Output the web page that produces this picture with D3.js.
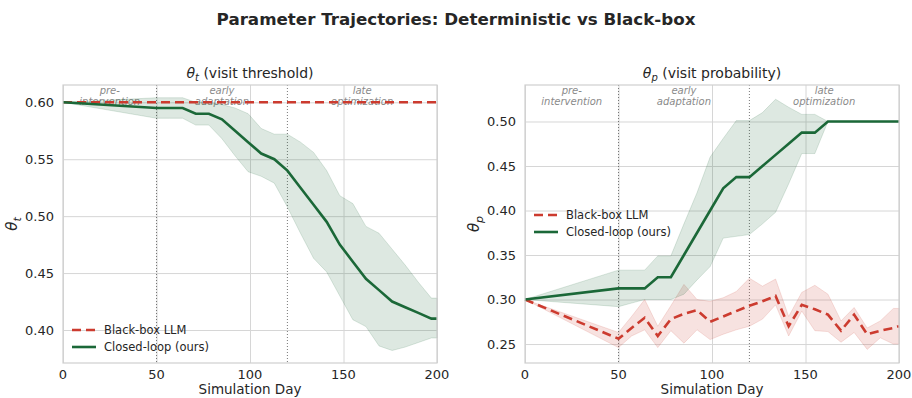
<!DOCTYPE html>
<html>
<head>
<meta charset="utf-8">
<script src="https://cdn.jsdelivr.net/npm/d3@7"></script>
<style>
  body { margin: 0; background: #fff; font-family: "DejaVu Sans", sans-serif; }
  svg text { fill: #262626; }
</style>
</head>
<body>
<div id="chart"></div>
<script>
// Data
const days = [0, 50, 57, 64, 71, 78, 85, 92, 99, 106, 113, 120, 127, 134, 141, 148, 155, 162, 169, 176, 183, 190, 197, 200];

// theta_t
const thetaTBlackbox = days.map(() => 0.60);
const thetaTClosed      = [0.600, 0.595, 0.595, 0.595, 0.590, 0.590, 0.585, 0.575, 0.565, 0.555, 0.550, 0.540, 0.525, 0.510, 0.495, 0.475, 0.460, 0.445, 0.435, 0.425, 0.420, 0.415, 0.410, 0.410];
const thetaTClosedUpper = [0.600, 0.604, 0.604, 0.604, 0.600, 0.600, 0.598, 0.595, 0.590, 0.577, 0.572, 0.572, 0.565, 0.556, 0.540, 0.518, 0.511, 0.491, 0.485, 0.471, 0.457, 0.442, 0.428, 0.428];
const thetaTClosedLower = [0.600, 0.586, 0.586, 0.586, 0.580, 0.580, 0.568, 0.553, 0.539, 0.535, 0.529, 0.508, 0.485, 0.463, 0.451, 0.430, 0.409, 0.403, 0.386, 0.382, 0.385, 0.389, 0.393, 0.393];

// theta_p
const thetaPBlackbox      = [0.300, 0.256, 0.268, 0.2795, 0.259, 0.278, 0.284, 0.288, 0.275, 0.281, 0.287, 0.293, 0.298, 0.304, 0.270, 0.294, 0.289, 0.283, 0.265, 0.283, 0.261, 0.265, 0.268, 0.270];
const thetaPBlackboxUpper = [0.300, 0.263, 0.281, 0.300, 0.270, 0.293, 0.317, 0.300, 0.298, 0.302, 0.309, 0.324, 0.315, 0.323, 0.281, 0.308, 0.316, 0.306, 0.276, 0.291, 0.268, 0.276, 0.290, 0.290];
const thetaPBlackboxLower = [0.300, 0.246, 0.259, 0.266, 0.246, 0.265, 0.251, 0.266, 0.255, 0.261, 0.266, 0.270, 0.278, 0.294, 0.259, 0.287, 0.265, 0.264, 0.252, 0.263, 0.244, 0.257, 0.250, 0.250];
const thetaPClosed      = [0.300, 0.3125, 0.3125, 0.3125, 0.325, 0.325, 0.350, 0.375, 0.400, 0.425, 0.4375, 0.4375, 0.450, 0.4625, 0.475, 0.4875, 0.4875, 0.500, 0.500, 0.500, 0.500, 0.500, 0.500, 0.500];
const thetaPClosedUpper = [0.300, 0.333, 0.333, 0.333, 0.349, 0.349, 0.385, 0.420, 0.460, 0.481, 0.501, 0.501, 0.510, 0.525, 0.516, 0.508, 0.508, 0.500, 0.500, 0.500, 0.500, 0.500, 0.500, 0.500];
const thetaPClosedLower = [0.300, 0.292, 0.296, 0.300, 0.300, 0.300, 0.306, 0.322, 0.337, 0.369, 0.371, 0.373, 0.385, 0.398, 0.430, 0.464, 0.464, 0.500, 0.500, 0.500, 0.500, 0.500, 0.500, 0.500];

const phaseBounds = [50, 120];
const phases = [
  {day: 25, lines: ["pre-", "intervention"]},
  {day: 85, lines: ["early", "adaptation"]},
  {day: 160, lines: ["late", "optimization"]}
];
const xTicks = [0, 50, 100, 150, 200];

const colorRed = "#cc3b2f";
const colorGreen = "#1b6838";

const W = 912, H = 398;
const svg = d3.select("#chart").append("svg")
  .attr("width", W).attr("height", H);

svg.append("text")
  .attr("x", W / 2).attr("y", 25)
  .attr("text-anchor", "middle")
  .style("font-size", "16.7px")
  .style("font-weight", "bold")
  .text("Parameter Trajectories: Deterministic vs Black-box");

function drawPanel(opts) {
  const {left, top, width, height, yDomain, yTicks, title, sub, series, legendY} = opts;
  const g = svg.append("g").attr("transform", `translate(${left},${top})`);

  const x = d3.scaleLinear().domain([0, 200]).range([0, width]);
  const y = d3.scaleLinear().domain(yDomain).range([height, 0]);

  // grid
  g.append("g")
    .call(d3.axisLeft(y).tickValues(yTicks).tickSize(-width).tickFormat(""))
    .call(a => a.select(".domain").remove())
    .selectAll("line").attr("stroke", "#d6d6d6").attr("stroke-width", 1);
  g.append("g")
    .attr("transform", `translate(0,${height})`)
    .call(d3.axisBottom(x).tickValues(xTicks).tickSize(-height).tickFormat(""))
    .call(a => a.select(".domain").remove())
    .selectAll("line").attr("stroke", "#d6d6d6").attr("stroke-width", 1);

  // phase boundaries
  phaseBounds.forEach(d => {
    g.append("line")
      .attr("x1", x(d)).attr("x2", x(d))
      .attr("y1", 0).attr("y2", height)
      .attr("stroke", "#555").attr("stroke-width", 0.8)
      .attr("stroke-dasharray", "1,2");
  });

  // phase labels
  phases.forEach(p => {
    const t = g.append("text")
      .attr("text-anchor", "middle")
      .style("font-size", "10px")
      .style("font-style", "italic")
      .style("fill", "#8a8a8a");
    p.lines.forEach((l, i) => {
      t.append("tspan").attr("x", x(p.day)).attr("y", 8.5 + i * 11).text(l);
    });
  });

  // bands then lines
  series.forEach(s => {
    if (!s.upper) return;
    const pts = days.map((d, i) => ({d, lo: s.lower[i], hi: s.upper[i]}));
    g.append("path")
      .datum(pts)
      .attr("fill", s.color).attr("fill-opacity", 0.15)
      .attr("stroke", s.color).attr("stroke-opacity", 0.15).attr("stroke-width", 1)
      .attr("d", d3.area().x(p => x(p.d)).y0(p => y(p.lo)).y1(p => y(p.hi)));
  });
  series.forEach(s => {
    g.append("path")
      .datum(days.map((d, i) => ({d, v: s.values[i]})))
      .attr("fill", "none")
      .attr("stroke", s.color)
      .attr("stroke-width", 2.6)
      .attr("stroke-dasharray", s.dash ? "9,5" : null)
      .attr("d", d3.line().x(p => x(p.d)).y(p => y(p.v)));
  });

  // frame
  g.append("rect")
    .attr("width", width).attr("height", height)
    .attr("fill", "none").attr("stroke", "#cfcfcf").attr("stroke-width", 1.2);

  // tick labels
  const fmt = d3.format(".2f");
  yTicks.forEach(v => {
    g.append("text")
      .attr("x", -9).attr("y", y(v)).attr("dy", "0.35em")
      .attr("text-anchor", "end")
      .style("font-size", "13px")
      .text(fmt(v));
  });
  xTicks.forEach(v => {
    g.append("text")
      .attr("x", x(v)).attr("y", height + 16)
      .attr("text-anchor", "middle")
      .style("font-size", "13px")
      .text(v);
  });

  g.append("text")
    .attr("x", width / 2).attr("y", height + 31)
    .attr("text-anchor", "middle")
    .style("font-size", "13.5px")
    .text("Simulation Day");

  // y label
  const yl = g.append("text")
    .attr("transform", `translate(${-opts.ylabelOffset},${height / 2}) rotate(-90)`)
    .attr("text-anchor", "middle")
    .style("font-size", "15px");
  yl.append("tspan").style("font-style", "italic").text("θ");
  yl.append("tspan").attr("dy", 4).style("font-size", "11px").style("font-style", "italic").text(sub);

  // title
  const tt = g.append("text")
    .attr("x", width / 2).attr("y", -7)
    .attr("text-anchor", "middle")
    .style("font-size", "14px");
  tt.append("tspan").style("font-style", "italic").text("θ");
  tt.append("tspan").attr("dy", 3).style("font-size", "10px").style("font-style", "italic").text(sub);
  tt.append("tspan").attr("dy", -3).text(" " + title);

  // legend
  series.forEach((s, i) => {
    const ly = legendY + i * 17;
    g.append("line")
      .attr("x1", 9).attr("x2", 33).attr("y1", ly).attr("y2", ly)
      .attr("stroke", s.color).attr("stroke-width", 2.6)
      .attr("stroke-dasharray", s.dash ? "9,5" : null);
    g.append("text")
      .attr("x", 41).attr("y", ly).attr("dy", "0.35em")
      .style("font-size", "11.5px")
      .text(s.name);
  });
}

drawPanel({
  left: 63, top: 85, width: 374, height: 278,
  yDomain: [0.371, 0.6152],
  yTicks: [0.40, 0.45, 0.50, 0.55, 0.60],
  title: "(visit threshold)", sub: "t",
  ylabelOffset: 46, legendY: 245,
  series: [
    {name: "Black-box LLM", values: thetaTBlackbox, color: colorRed, dash: true},
    {name: "Closed-loop (ours)", values: thetaTClosed, upper: thetaTClosedUpper, lower: thetaTClosedLower, color: colorGreen}
  ]
});

drawPanel({
  left: 525, top: 85, width: 374, height: 278,
  yDomain: [0.2287, 0.541],
  yTicks: [0.25, 0.30, 0.35, 0.40, 0.45, 0.50],
  title: "(visit probability)", sub: "p",
  ylabelOffset: 46, legendY: 130,
  series: [
    {name: "Black-box LLM", values: thetaPBlackbox, upper: thetaPBlackboxUpper, lower: thetaPBlackboxLower, color: colorRed, dash: true},
    {name: "Closed-loop (ours)", values: thetaPClosed, upper: thetaPClosedUpper, lower: thetaPClosedLower, color: colorGreen}
  ]
});
</script>
</body>
</html>
